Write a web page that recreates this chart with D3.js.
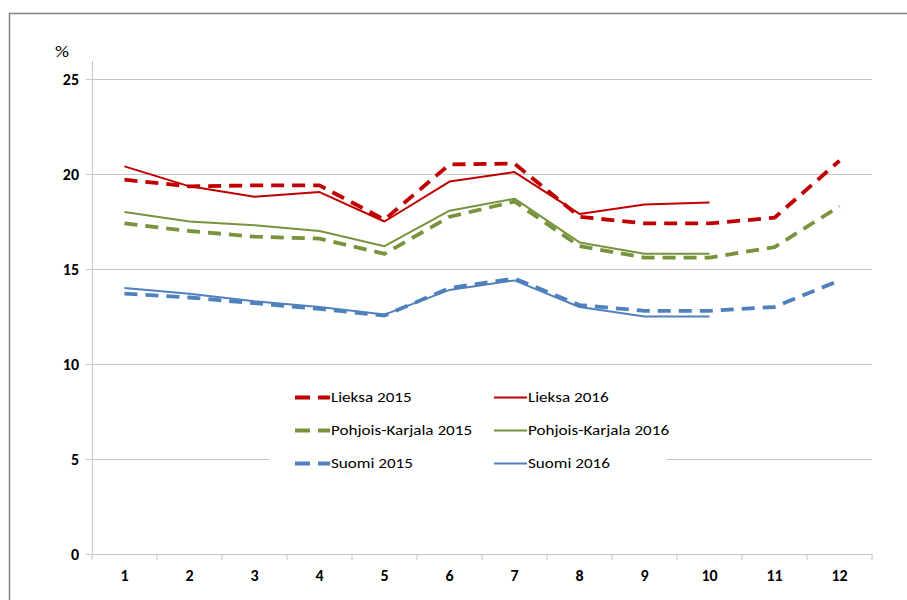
<!DOCTYPE html>
<html>
<head>
<meta charset="utf-8">
<script src="https://cdn.jsdelivr.net/npm/d3@7"></script>
<style>
  body { margin: 0; background: #fff; }
  .tick text { font-family: Carlito, "Open Sans", "Liberation Sans", sans-serif; }
</style>
</head>
<body>
<div id="container"></div>
<script>
var months = [1, 2, 3, 4, 5, 6, 7, 8, 9, 10, 11, 12];
var yTicks = [0, 5, 10, 15, 20, 25];

var lieksa2015 = [19.7, 19.35, 19.4, 19.4, 17.6, 20.5, 20.55, 17.75, 17.4, 17.4, 17.7, 20.7];
var lieksa2016 = [20.4, 19.35, 18.8, 19.05, 17.5, 19.6, 20.1, 17.9, 18.4, 18.5];
var pk2015 = [17.4, 17.0, 16.7, 16.6, 15.8, 17.75, 18.55, 16.2, 15.6, 15.6, 16.15, 18.3];
var pk2016 = [18.0, 17.5, 17.3, 17.0, 16.2, 18.07, 18.7, 16.4, 15.8, 15.8];
var suomi2015 = [13.7, 13.5, 13.2, 12.9, 12.55, 14.0, 14.5, 13.1, 12.8, 12.8, 13.0, 14.4];
var suomi2016 = [14.0, 13.7, 13.3, 13.0, 12.6, 13.9, 14.4, 13.0, 12.5, 12.5];

var seriesNames = ["Lieksa 2015", "Lieksa 2016", "Pohjois-Karjala 2015", "Pohjois-Karjala 2016", "Suomi 2015", "Suomi 2016"];

var series = [
  {name: seriesNames[0], values: lieksa2015, color: "#c00000", dashed: true},
  {name: seriesNames[1], values: lieksa2016, color: "#c00000", dashed: false},
  {name: seriesNames[2], values: pk2015, color: "#77933c", dashed: true},
  {name: seriesNames[3], values: pk2016, color: "#77933c", dashed: false},
  {name: seriesNames[4], values: suomi2015, color: "#4f81bd", dashed: true},
  {name: seriesNames[5], values: suomi2016, color: "#4f81bd", dashed: false}
];

var W = 907, H = 600;
var margin = {top: 79, left: 92},
    width = 780,
    height = 475;

var xScale = d3.scaleBand()
  .domain(months)
  .range([0, width]);

var yScale = d3.scaleLinear()
  .domain([0, 25])
  .range([height, 0]);

var svg = d3.select("#container").append("svg")
  .attr("width", W)
  .attr("height", H);

// outer frame
svg.append("rect")
  .attr("x", 9.5).attr("y", 13.5)
  .attr("width", W + 20).attr("height", H + 20)
  .attr("fill", "none")
  .attr("stroke", "#858585")
  .attr("stroke-width", 1.5);

var g = svg.append("g")
  .attr("transform", "translate(" + margin.left + "," + margin.top + ")");

// grid lines
g.append("g")
  .selectAll("line")
  .data(yTicks.filter(function(d) { return d > 0; }))
  .enter().append("line")
    .attr("x1", 0).attr("x2", width)
    .attr("y1", function(d) { return Math.round(yScale(d)) + 0.5; })
    .attr("y2", function(d) { return Math.round(yScale(d)) + 0.5; })
    .attr("stroke", "#c6c6c6")
    .attr("stroke-width", 1);

// y axis
var yAxis = g.append("g")
  .call(d3.axisLeft(yScale).tickValues(yTicks).tickSize(6).tickPadding(7));
yAxis.select(".domain")
  .attr("d", "M0.5," + (-18) + "V" + height)
  .attr("stroke", "#c6c6c6");
yAxis.selectAll(".tick line").attr("stroke", "#c6c6c6");
yAxis.selectAll(".tick text")
  .attr("font-size", "16px")
  .attr("font-weight", "bold")
  .attr("fill", "#000");

// x axis
var xAxis = g.append("g")
  .attr("transform", "translate(0," + height + ")")
  .call(d3.axisBottom(xScale).tickSize(0).tickPadding(16));
xAxis.select(".domain").attr("stroke", "#c6c6c6");
xAxis.selectAll(".tick text")
  .attr("font-size", "16px")
  .attr("font-weight", "bold")
  .attr("fill", "#000");
// tick marks between categories
xAxis.append("g")
  .selectAll("line")
  .data(months.concat([13]))
  .enter().append("line")
    .attr("x1", function(d, i) { return i === 12 ? width : xScale(d); })
    .attr("x2", function(d, i) { return i === 12 ? width : xScale(d); })
    .attr("y1", 0).attr("y2", 6)
    .attr("stroke", "#c6c6c6");

svg.append("text")
  .attr("transform", "translate(55,57) scale(1.15,1)")
  .attr("font-family", "Carlito, 'Open Sans', 'Liberation Sans', sans-serif")
  .attr("font-size", "17px")
  .text("%");

// lines
var line = d3.line()
  .x(function(d, i) { return xScale(months[i]) + xScale.bandwidth() / 2; })
  .y(function(d) { return yScale(d); });

g.selectAll(".series")
  .data(series)
  .enter().append("path")
    .attr("class", "series")
    .attr("d", function(d) { return line(d.values); })
    .attr("fill", "none")
    .attr("stroke", function(d) { return d.color; })
    .attr("stroke-width", function(d) { return d.dashed ? 3.8 : 2; })
    .attr("stroke-dasharray", function(d) { return d.dashed ? "13,8" : null; })
    .attr("stroke-linejoin", "round");

// legend
var legend = svg.append("g");
legend.append("rect")
  .attr("x", 270).attr("y", 382)
  .attr("width", 396).attr("height", 96)
  .attr("fill", "#fff");

var item = legend.selectAll(".item")
  .data(series)
  .enter().append("g")
    .attr("class", "item")
    .attr("transform", function(d, i) {
      return "translate(" + (i % 2 === 0 ? 295 : 494) + "," + (397 + Math.floor(i / 2) * 33) + ")";
    });

item.append("line")
  .attr("x1", 0).attr("x2", function(d) { return d.dashed ? 35 : 33; })
  .attr("y1", 0.5).attr("y2", 0.5)
  .attr("stroke", function(d) { return d.color; })
  .attr("stroke-width", function(d) { return d.dashed ? 3.8 : 2; })
  .attr("stroke-dasharray", function(d) { return d.dashed ? "15,8" : null; });

item.append("text")
  .attr("transform", function(d) { return "translate(" + (d.dashed ? 36 : 34) + ",5) scale(1.18,1)"; })
  .attr("font-family", "Carlito, 'Open Sans', 'Liberation Sans', sans-serif")
  .attr("font-size", "14.5px")
  .attr("fill", "#000")
  .text(function(d) { return d.name; });
</script>
</body>
</html>
